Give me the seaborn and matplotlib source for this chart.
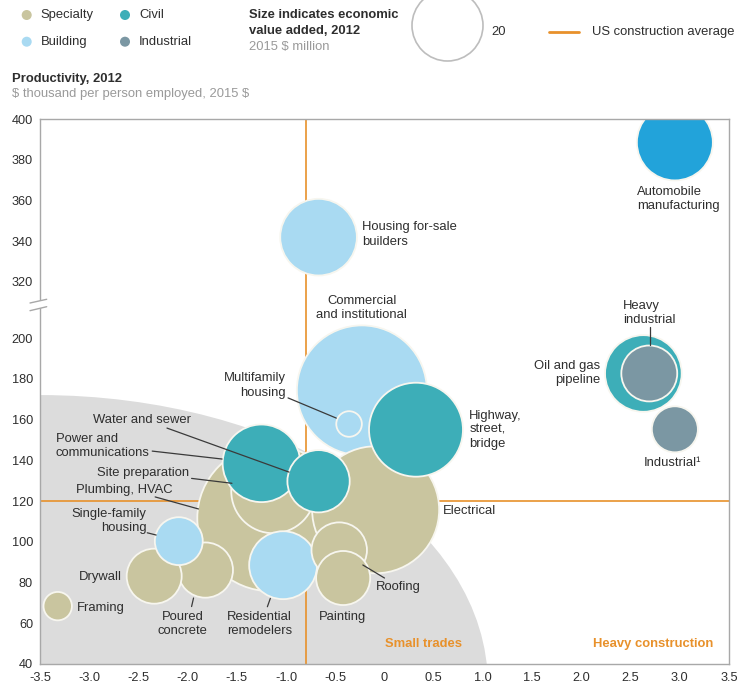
import matplotlib
matplotlib.use("Agg")
import matplotlib.pyplot as plt
from matplotlib.patches import Ellipse, Polygon
import seaborn as sns
import pandas as pd

# bubble data: position on x axis, productivity ($ thousand / person), value added (2015 $ million)
names = ["Plumbing, HVAC", "Commercial and institutional", "Electrical", "Highway, street, bridge",
         "Site preparation", "Power and communications", "Housing for-sale builders",
         "Oil and gas pipeline", "Automobile manufacturing", "Residential remodelers",
         "Water and sewer", "Heavy industrial", "Roofing", "Poured concrete", "Drywall",
         "Painting", "Single-family housing", "Industrial", "Framing", "Multifamily housing"]
groups = ["Specialty", "Building", "Specialty", "Civil",
          "Specialty", "Civil", "Building",
          "Civil", "Automobile", "Building",
          "Civil", "Industrial", "Specialty", "Specialty", "Specialty",
          "Specialty", "Building", "Industrial", "Specialty", "Building"]
x_pos = [-1.16, -0.23, -0.09, 0.32,
         -1.13, -1.25, -0.67,
         2.63, 2.95, -1.03,
         -0.67, 2.69, -0.46, -1.82, -2.34,
         -0.42, -2.09, 2.95, -3.32, -0.36]
productivity = [111.6, 174.3, 115.7, 155.0,
                124.8, 138.5, 342.0,
                182.6, 388.5, 88.5,
                129.7, 182.6, 95.9, 86.1, 83.1,
                82.2, 100.3, 155.2, 68.4, 157.8]
value_added = [84.6, 67.0, 64.0, 35.0,
               28.0, 23.9, 23.3,
               23.3, 22.9, 18.3,
               15.4, 12.4, 12.2, 12.1, 12.0,
               11.6, 9.1, 8.4, 3.2, 2.6]

legend_groups = ["Specialty", "Building", "Civil", "Industrial"]
legend_size_value = 20
us_avg_x = -0.8
us_avg_productivity = 120

x_ticks = [-3.5, -3.0, -2.5, -2.0, -1.5, -1.0, -0.5, 0, 0.5, 1.0, 1.5, 2.0, 2.5, 3.0, 3.5]
x_tick_labels = ["-3.5", "-3.0", "-2.5", "-2.0", "-1.5", "-1.0", "-0.5", "0",
                 "0.5", "1.0", "1.5", "2.0", "2.5", "3.0", "3.5"]
y_ticks_low = [40, 60, 80, 100, 120, 140, 160, 180, 200]
y_ticks_high = [320, 340, 360, 380, 400]

colors = {"Specialty": "#C9C59F", "Building": "#A9DAF2", "Civil": "#3DAEB8",
          "Industrial": "#7B97A3", "Automobile": "#22A3DA"}
ORANGE = "#E8912B"
TEXT = "#2E2E2E"
GREY_TEXT = "#9A9A9A"

# broken y axis: everything above 200 jumps down to 320
BREAK_LO, BREAK_HI, GAP = 200, 320, 27.5


def fold(v):
    return v if v <= BREAK_LO else v - BREAK_HI + BREAK_LO + GAP


SIZE_PER_UNIT = 130.7  # points^2 per $ million at 100 dpi

sns.set_style("white")
plt.rcParams["font.family"] = ["Liberation Sans", "DejaVu Sans"]
plt.rcParams["font.size"] = 9.4

df = pd.DataFrame({"name": names, "group": groups, "x": x_pos,
                   "productivity": productivity, "value": value_added})
df["y"] = df["productivity"].apply(fold)
df = df.sort_values("value", ascending=False)

fig = plt.figure(figsize=(7.38, 6.87), dpi=100)
ax = fig.add_axes([40 / 738, 23 / 687, 689 / 738, 545 / 687])

# grey "small trades" zone
ax.add_patch(Ellipse((-3.5, 30), 9.1, 284, facecolor="#DCDCDC", edgecolor="none", zorder=0))
ax.axhline(us_avg_productivity, color=ORANGE, lw=1.2, zorder=1)
ax.axvline(us_avg_x, color=ORANGE, lw=1.2, zorder=1)

vmax = df["value"].max()
sns.scatterplot(data=df, x="x", y="y", hue="group", palette=colors,
                size="value", sizes=(0, SIZE_PER_UNIT * vmax), size_norm=(0, vmax),
                edgecolor="#F7F6EF", linewidth=1.3, alpha=1, legend=False, ax=ax, zorder=2)

ax.set_xlim(-3.5, 3.5)
ax.set_ylim(40, fold(400))
ax.set_xticks(x_ticks)
ax.set_xticklabels(x_tick_labels)
ax.set_yticks([fold(v) for v in y_ticks_low + y_ticks_high])
ax.set_yticklabels([str(v) for v in y_ticks_low + y_ticks_high])
ax.set_xlabel("")
ax.set_ylabel("")
ax.tick_params(direction="in", length=4, width=0.8, color="#9A9A9A", labelsize=9.2, labelcolor=TEXT)
ax.tick_params(axis="x", pad=6)
ax.tick_params(axis="y", pad=5)
for sp in ax.spines.values():
    sp.set_color("#A8A8A8")
    sp.set_linewidth(1.0)
    sp.set_visible(True)

# axis break marks
ax.add_patch(Polygon([(-0.0145, 0.6624), (0.0097, 0.6692), (0.0097, 0.6556), (-0.0145, 0.6483)],
                     closed=True, facecolor="white", edgecolor="none",
                     transform=ax.transAxes, clip_on=False, zorder=5))
for y0, y1 in [(0.6624, 0.6692), (0.6483, 0.6556)]:
    ax.plot([-0.0145, 0.0097], [y0, y1], color="#A8A8A8", lw=1.0,
            transform=ax.transAxes, clip_on=False, zorder=6)

# bubble labels (positions in axis units)
labels = [
    ("Housing for-sale\nbuilders", -0.23, 250.8, "left"),
    ("Commercial\nand institutional", -0.23, 214.7, "center"),
    ("Multifamily\nhousing", -1.0, 176.7, "right"),
    ("Water and sewer", -2.96, 159.8, "left"),
    ("Power and\ncommunications", -3.34, 147.1, "left"),
    ("Site preparation", -2.92, 133.6, "left"),
    ("Plumbing, HVAC", -3.13, 125.4, "left"),
    ("Single-family\nhousing", -2.42, 110.2, "right"),
    ("Drywall", -2.67, 82.7, "right"),
    ("Framing", -3.13, 67.5, "left"),
    ("Poured\nconcrete", -2.05, 59.6, "center"),
    ("Residential\nremodelers", -1.27, 59.6, "center"),
    ("Painting", -0.43, 63.1, "center"),
    ("Roofing", -0.09, 77.8, "left"),
    ("Electrical", 0.59, 115.1, "left"),
    ("Highway,\nstreet,\nbridge", 0.86, 154.9, "left"),
    ("Oil and gas\npipeline", 2.19, 182.8, "right"),
    ("Heavy\nindustrial", 2.42, 212.3, "left"),
    ("Industrial\u00b9", 2.93, 138.7, "center"),
    ("Automobile\nmanufacturing", 2.57, 268.2, "left"),
]
for text, lx, ly, ha in labels:
    ax.text(lx, ly, text, ha=ha, va="center", color=TEXT, fontsize=9.4,
            linespacing=1.25, zorder=7)

leaders = [
    ((-0.98, 170.6), (-0.49, 160.7)),
    ((-2.21, 155.8), (-0.97, 134.2)),
    ((-2.36, 144.5), (-1.65, 140.6)),
    ((-1.96, 131.1), (-1.55, 128.7)),
    ((-2.33, 122.0), (-1.89, 116.1)),
    ((-2.41, 104.4), (-2.32, 103.3)),
    ((-1.94, 72.4), (-1.96, 68.2)),
    ((-1.16, 72.2), (-1.19, 68.1)),
    ((-0.22, 88.6), (0.0, 82.2)),
    ((2.70, 205.4), (2.70, 196.6)),
]
for (x0, y0), (x1, y1) in leaders:
    ax.plot([x0, x1], [y0, y1], color="#3A3A3A", lw=0.9, zorder=6)

ax.text(0.40, 49.8, "Small trades", ha="center", va="center", color=ORANGE,
        fontsize=9.4, fontweight="bold", zorder=7)
ax.text(3.34, 49.8, "Heavy construction", ha="right", va="center", color=ORANGE,
        fontsize=9.4, fontweight="bold", zorder=7)

# header / legends drawn in pixel space
lax = fig.add_axes([0, 0, 1, 1], zorder=10)
lax.set_xlim(0, 738)
lax.set_ylim(687, 0)
lax.axis("off")

leg_pos = [(26.7, 15), (26.7, 41.7), (125, 15), (125, 41.7)]
for g, (px, py) in zip(legend_groups, leg_pos):
    lax.scatter([px], [py], s=52, color=colors[g], edgecolor="none")
    lax.text(px + 14, py, g, ha="left", va="center", color=TEXT, fontsize=9.4)

lax.text(249, 15, "Size indicates economic", ha="left", va="center",
         color=TEXT, fontsize=9.4, fontweight="bold")
lax.text(249, 31.5, "value added, 2012", ha="left", va="center",
         color=TEXT, fontsize=9.4, fontweight="bold")
lax.text(249, 47, "2015 \\$ million", ha="left", va="center", color=GREY_TEXT, fontsize=9.4)
lax.scatter([446.5], [24.5], s=SIZE_PER_UNIT * legend_size_value, facecolor="white",
            edgecolor="#BDBDBD", linewidth=1.2, clip_on=False)
lax.text(491, 32, str(legend_size_value), ha="left", va="center", color=TEXT, fontsize=9.4)
lax.plot([549, 579], [32, 32], color=ORANGE, lw=2)
lax.text(592, 32, "US construction average", ha="left", va="center", color=TEXT, fontsize=9.4)

lax.text(12, 79, "Productivity, 2012", ha="left", va="center", color=TEXT,
         fontsize=9.4, fontweight="bold")
lax.text(12, 94, "\\$ thousand per person employed, 2015 \\$", ha="left", va="center",
         color=GREY_TEXT, fontsize=9.4)

fig.savefig("out.png", dpi=100, facecolor="white")
